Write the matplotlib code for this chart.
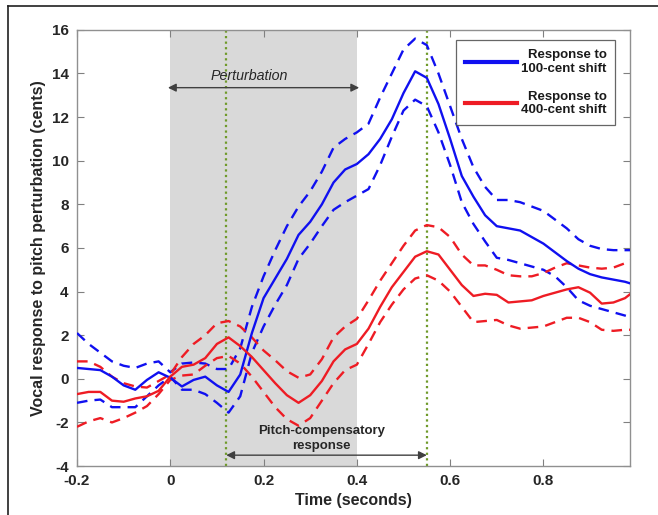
import numpy as np
import matplotlib
matplotlib.use("Agg")
import matplotlib.pyplot as plt
from matplotlib.lines import Line2D

plt.rcParams["font.family"] = ["Liberation Sans", "DejaVu Sans"]
plt.rcParams["font.weight"] = "bold"
plt.rcParams["axes.unicode_minus"] = False

# time axis (seconds)
t = [-0.2, -0.175, -0.15, -0.125, -0.1, -0.075, -0.05, -0.025, 0.0, 0.025,
     0.05, 0.075, 0.1, 0.125, 0.15, 0.175, 0.2, 0.225, 0.25, 0.275,
     0.3, 0.325, 0.35, 0.375, 0.4, 0.425, 0.45, 0.475, 0.5, 0.525,
     0.55, 0.575, 0.6, 0.625, 0.65, 0.675, 0.7, 0.725, 0.75, 0.775,
     0.8, 0.825, 0.85, 0.875, 0.9, 0.925, 0.95, 0.975, 0.99]

# 100-cent shift: mean and confidence bounds
blue_mean = [0.5, 0.45, 0.4, 0.1, -0.3, -0.5, -0.05, 0.3, 0.05, -0.35,
             -0.05, 0.1, -0.3, -0.6, 0.2, 2.1, 3.7, 4.6, 5.5, 6.6,
             7.2, 8.0, 9.0, 9.6, 9.85, 10.3, 11.0, 11.9, 13.1, 14.1,
             13.8, 12.6, 11.0, 9.3, 8.35, 7.5, 7.0, 6.9, 6.8, 6.5,
             6.2, 5.8, 5.4, 5.05, 4.8, 4.65, 4.55, 4.45, 4.35]
blue_upper = [2.1, 1.6, 1.2, 0.8, 0.6, 0.5, 0.7, 0.8, 0.3, 0.7,
              0.75, 0.7, 0.45, 0.45, 1.4, 3.3, 4.7, 5.9, 7.0, 7.9,
              8.6, 9.5, 10.6, 11.0, 11.3, 11.7, 12.9, 14.0, 15.1, 15.6,
              15.3, 14.0, 12.5, 11.0, 9.7, 8.8, 8.2, 8.2, 8.1, 7.9,
              7.7, 7.3, 6.9, 6.4, 6.1, 5.95, 5.9, 5.9, 5.9]
blue_lower = [-1.1, -1.0, -0.95, -1.3, -1.3, -1.3, -0.8, -0.3, 0.1, -0.5,
              -0.5, -0.7, -1.1, -1.55, -0.8, 1.2, 2.4, 3.4, 4.3, 5.5,
              6.2, 7.0, 7.75, 8.1, 8.4, 8.7, 9.8, 11.1, 12.3, 12.8,
              12.5, 11.3, 9.8, 8.1, 7.1, 6.3, 5.55, 5.45, 5.3, 5.15,
              5.0, 4.7, 4.2, 3.6, 3.35, 3.2, 3.05, 2.9, 2.8]

# 400-cent shift: mean and confidence bounds
red_mean = [-0.7, -0.6, -0.6, -1.0, -1.05, -0.9, -0.8, -0.55, 0.1, 0.55,
            0.65, 0.95, 1.6, 1.9, 1.5, 1.0, 0.4, -0.2, -0.75, -1.1,
            -0.75, -0.1, 0.8, 1.35, 1.6, 2.3, 3.3, 4.2, 4.9, 5.6,
            5.85, 5.7, 5.0, 4.3, 3.8, 3.9, 3.85, 3.5, 3.55, 3.6,
            3.8, 3.95, 4.1, 4.2, 3.95, 3.45, 3.5, 3.7, 3.95]
red_upper = [0.8, 0.8, 0.55, 0.1, -0.2, -0.35, -0.4, -0.1, 0.2, 1.0,
             1.6, 2.0, 2.55, 2.65, 2.4, 1.9, 1.3, 0.85, 0.35, 0.05,
             0.2, 0.9, 1.9, 2.4, 2.75, 3.6, 4.5, 5.3, 6.1, 6.8,
             7.05, 6.95, 6.5, 5.7, 5.2, 5.2, 5.0, 4.75, 4.7, 4.7,
             4.85, 5.1, 5.3, 5.2, 5.1, 5.05, 5.1, 5.3, 5.45]
red_lower = [-2.2, -1.95, -1.8, -2.0, -1.8, -1.55, -1.25, -0.7, -0.05, 0.15,
             0.2, 0.6, 0.95, 1.05, 0.7, 0.1, -0.6, -1.3, -1.85, -2.15,
             -1.8, -1.0, -0.2, 0.4, 0.65, 1.6, 2.6, 3.4, 4.1, 4.6,
             4.75, 4.5, 4.0, 3.3, 2.6, 2.65, 2.7, 2.45, 2.3, 2.35,
             2.4, 2.6, 2.8, 2.8, 2.6, 2.25, 2.2, 2.25, 2.25]

perturb_window = [0.0, 0.4]
event_lines = [0.12, 0.55]

BLUE = "#1010f0"
RED = "#ee1c24"
GREEN = "#6f9a2a"
GRAY_TXT = "#262626"

fig = plt.figure(figsize=(6.58, 5.15), dpi=100)
ax = fig.add_axes([0.117, 0.095, 0.840, 0.847])

ax.axvspan(perturb_window[0], perturb_window[1], color="#d9d9d9", lw=0, zorder=0)
for x in event_lines:
    ax.axvline(x, color=GREEN, ls=(0, (1, 1.5)), lw=1.6, zorder=1)

dash = (0, (4.5, 3))
ax.plot(t, blue_upper, color=BLUE, lw=1.7, ls=dash, zorder=3)
ax.plot(t, blue_lower, color=BLUE, lw=1.7, ls=dash, zorder=3)
ax.plot(t, red_upper, color=RED, lw=1.7, ls=dash, zorder=3)
ax.plot(t, red_lower, color=RED, lw=1.7, ls=dash, zorder=3)
ax.plot(t, blue_mean, color=BLUE, lw=1.7, zorder=4, label="Response to\n100-cent shift")
ax.plot(t, red_mean, color=RED, lw=1.7, zorder=4, label="Response to\n400-cent shift")

# annotations
ax.annotate("", xy=(-0.005, 13.35), xytext=(0.405, 13.35),
            arrowprops=dict(arrowstyle="<|-|>", color="#404040", lw=1.0,
                            mutation_scale=12, shrinkA=0, shrinkB=0))
ax.text(0.17, 13.55, "Perturbation", style="italic", fontweight="normal",
        fontsize=10.3, color=GRAY_TXT, ha="center", va="bottom")
ax.annotate("", xy=(event_lines[0], -3.5), xytext=(event_lines[1], -3.5),
            arrowprops=dict(arrowstyle="<|-|>", color="#404040", lw=1.0,
                            mutation_scale=12, shrinkA=0, shrinkB=0))
ax.text(0.324, -2.72, "Pitch-compensatory\nresponse", fontsize=9.5,
        color=GRAY_TXT, ha="center", va="center", linespacing=1.3)

ax.set_xlim(-0.2, 0.985)
ax.set_ylim(-4, 16)
ax.set_xticks([-0.2, 0, 0.2, 0.4, 0.6, 0.8])
ax.set_xticklabels(["-0.2", "0", "0.2", "0.4", "0.6", "0.8"])
ax.set_yticks(range(-4, 17, 2))
ax.tick_params(direction="in", top=True, right=True, length=5, width=0.8,
               color="#808080", labelsize=11, labelcolor=GRAY_TXT, pad=6)
for s in ax.spines.values():
    s.set_color("#909090")
    s.set_linewidth(1.0)

ax.set_xlabel("Time (seconds)", fontsize=11.5, fontweight="bold", color=GRAY_TXT, labelpad=3)
ax.set_ylabel("Vocal response to pitch perturbation (cents)", fontsize=11.5,
              fontweight="bold", color=GRAY_TXT, labelpad=4)

leg = ax.legend(loc="upper right", bbox_to_anchor=(0.974, 0.976), fontsize=9.5,
                frameon=True, fancybox=False, edgecolor="#404040",
                handlelength=4.0, handletextpad=0.3, labelspacing=1.2,
                borderpad=0.65, borderaxespad=0)
leg.get_frame().set_linewidth(0.9)
for line in leg.get_lines():
    line.set_linewidth(3)
for txt in leg.get_texts():
    txt.set_multialignment("right")
    txt.set_color("#1a1a1a")

# outer frame (left and top edges only)
fig.add_artist(Line2D([0.012, 0.012], [0, 0.988], transform=fig.transFigure, color="#202020", lw=1.2))
fig.add_artist(Line2D([0.012, 1.0], [0.988, 0.988], transform=fig.transFigure, color="#202020", lw=1.2))

fig.savefig("out.png", dpi=100)
